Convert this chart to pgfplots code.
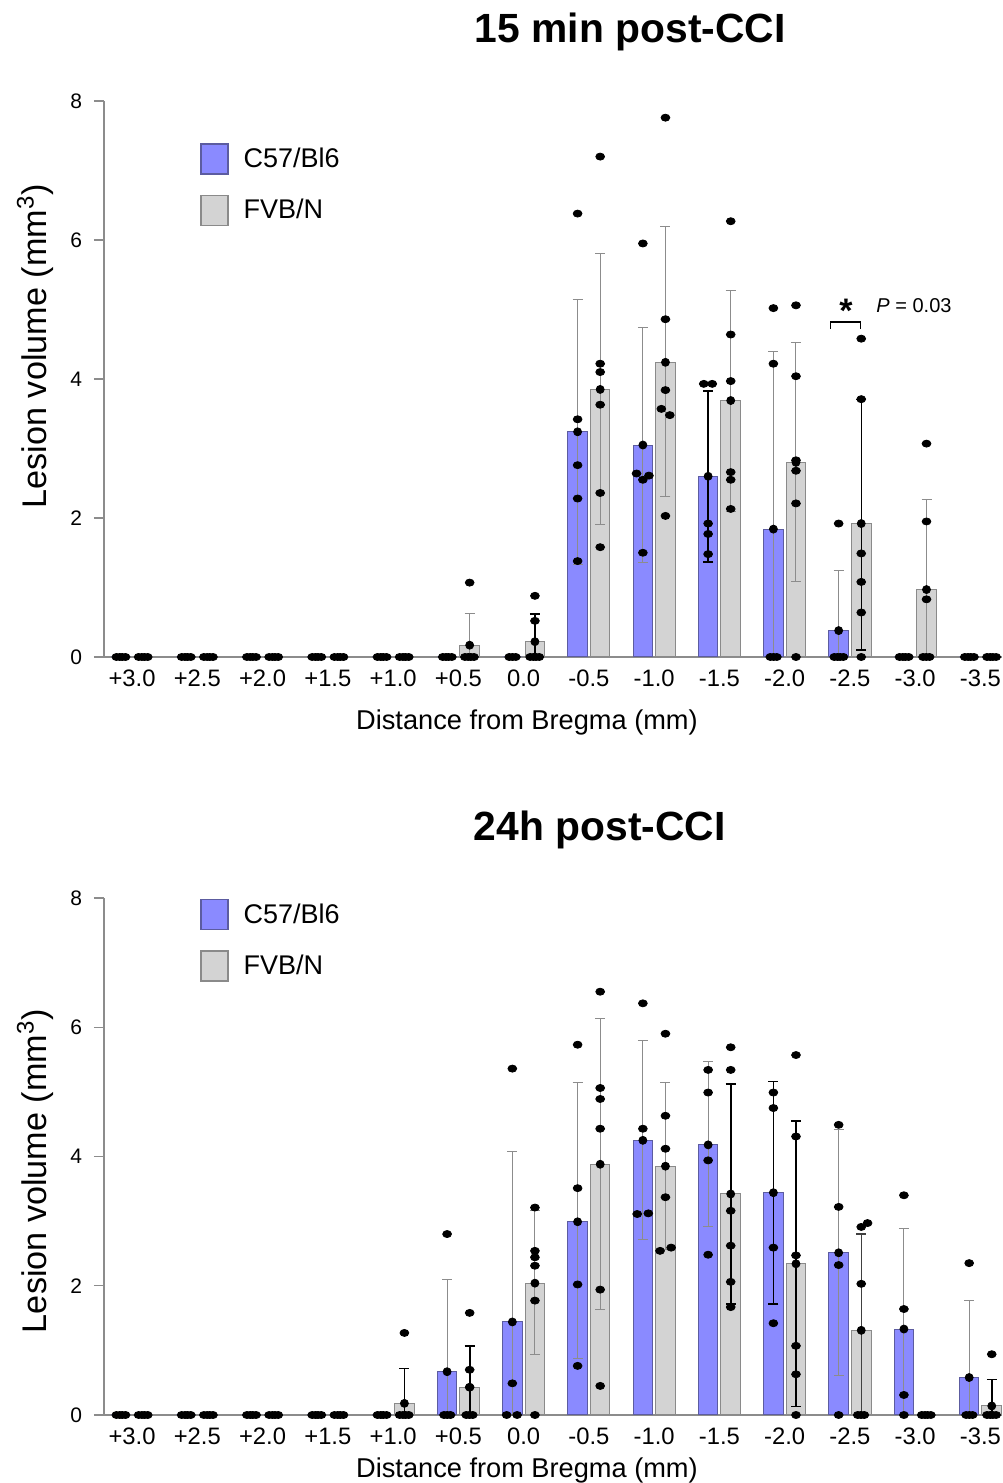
\documentclass[border=0pt]{standalone}
\usepackage{pgfplots}
\pgfplotsset{compat=1.18}
\usepackage{pgfplotstable}
\usepackage{fontspec}
\setmainfont{Liberation Sans}

\definecolor{c57}{HTML}{8A8AFF}
\definecolor{c57edge}{HTML}{5C5CA0}
\definecolor{fvb}{HTML}{D3D3D3}
\definecolor{fvbedge}{HTML}{8A8A8A}
\definecolor{axgray}{HTML}{8C8C8C}

% group means, i = 0 (+3.0 mm) ... 13 (-3.5 mm)
\pgfplotstableread{
i b g
0 0 0
1 0 0
2 0 0
3 0 0
4 0 0
5 0 0.17
6 0 0.22
7 3.24 3.85
8 3.05 4.24
9 2.60 3.69
10 1.84 2.80
11 0.38 1.92
12 0 0.97
13 0 0
}\topbars
\pgfplotstableread{
i b g
0 0 0
1 0 0
2 0 0
3 0 0
4 0 0.18
5 0.67 0.43
6 1.44 2.04
7 2.99 3.88
8 4.25 3.85
9 4.18 3.42
10 3.44 2.34
11 2.51 1.31
12 1.33 0
13 0.58 0.14
}\botbars

% SD bars: thin grey, thick black, thin black
\pgfplotstableread{
x m ep em
6.827 3.24 1.91 1.91
7.827 3.05 1.69 1.69
9.827 1.84 2.55 1.84
10.827 0.38 0.86 0.38
5.173 0.17 0.45 0.17
7.173 3.85 1.95 1.95
8.173 4.24 1.95 1.93
9.173 3.69 1.59 1.59
10.173 2.80 1.73 1.72
12.173 0.97 1.29 0.97
}\toperrA
\pgfplotstableread{
x m ep em
8.827 2.60 1.23 1.23
6.173 0.22 0.40 0.22
}\toperrB
\pgfplotstableread{
x m ep em
11.173 1.92 1.79 1.82
}\toperrC
\pgfplotstableread{
x m ep em
4.827 0.67 1.43 0.67
5.827 1.44 2.63 1.44
6.827 2.99 2.15 2.12
7.827 4.25 1.55 1.53
8.827 4.18 1.29 1.27
10.827 2.51 1.91 1.90
11.827 1.33 1.55 1.33
12.827 0.58 1.19 0.58
6.173 2.04 1.12 1.11
7.173 3.88 2.26 2.24
8.173 3.85 1.30 1.29
}\boterrA
\pgfplotstableread{
x m ep em
4.173 0.18 0.54 0.18
5.173 0.43 0.64 0.43
9.173 3.42 1.70 1.70
10.173 2.34 2.21 2.21
13.173 0.14 0.41 0.14
9.827 3.44 1.72 1.72
}\boterrB
\pgfplotstableread{
x m ep em
11.173 1.31 1.49 1.31
}\boterrC

% individual animals: category i, offset d from category centre, volume y
\pgfplotstableread{
i d y
0 -0.24 0
0 -0.19 0
0 -0.15 0
0 -0.10 0
0 0.10 0
0 0.15 0
0 0.19 0
0 0.24 0
1 -0.24 0
1 -0.19 0
1 -0.15 0
1 -0.10 0
1 0.10 0
1 0.15 0
1 0.19 0
1 0.24 0
2 -0.24 0
2 -0.19 0
2 -0.15 0
2 -0.10 0
2 0.10 0
2 0.15 0
2 0.19 0
2 0.24 0
3 -0.24 0
3 -0.19 0
3 -0.15 0
3 -0.10 0
3 0.10 0
3 0.15 0
3 0.19 0
3 0.24 0
4 -0.24 0
4 -0.19 0
4 -0.15 0
4 -0.10 0
4 0.10 0
4 0.15 0
4 0.19 0
4 0.24 0
5 -0.24 0
5 -0.19 0
5 -0.15 0
5 -0.10 0
5 0.173 1.07
5 0.10 0
5 0.15 0
5 0.19 0
5 0.24 0
6 -0.22 0
6 -0.17 0
6 -0.12 0
6 0.173 0.88
6 0.173 0.52
6 0.10 0
6 0.15 0
6 0.19 0
6 0.24 0
7 -0.173 6.38
7 -0.173 3.42
7 -0.173 2.76
7 -0.173 2.28
7 -0.173 1.38
7 0.173 7.20
7 0.173 4.22
7 0.173 4.10
7 0.173 3.63
7 0.173 2.36
7 0.173 1.58
8 -0.173 5.95
8 -0.27 2.64
8 -0.173 2.55
8 -0.08 2.61
8 -0.173 1.50
8 0.173 7.76
8 0.173 4.86
8 0.173 3.84
8 0.11 3.57
8 0.24 3.48
8 0.173 2.03
9 -0.24 3.93
9 -0.11 3.93
9 -0.173 1.92
9 -0.173 1.77
9 -0.173 1.48
9 0.173 6.27
9 0.173 4.64
9 0.173 3.97
9 0.173 2.66
9 0.173 2.55
9 0.173 2.13
10 -0.173 5.02
10 -0.173 4.22
10 -0.22 0
10 -0.17 0
10 -0.12 0
10 0.173 5.06
10 0.173 4.04
10 0.173 2.83
10 0.173 2.68
10 0.173 2.21
10 0.173 0
11 -0.173 1.92
11 -0.24 0
11 -0.19 0
11 -0.15 0
11 -0.10 0
11 0.173 4.58
11 0.173 3.71
11 0.173 1.49
11 0.173 1.08
11 0.173 0.64
11 0.173 0
12 -0.24 0
12 -0.19 0
12 -0.15 0
12 -0.10 0
12 0.173 3.07
12 0.173 1.95
12 0.173 0.83
12 0.12 0
12 0.17 0
12 0.22 0
13 -0.24 0
13 -0.19 0
13 -0.15 0
13 -0.10 0
13 0.10 0
13 0.15 0
13 0.19 0
13 0.24 0
}\topdots
\pgfplotstableread{
i d y
0 -0.24 0
0 -0.19 0
0 -0.15 0
0 -0.10 0
0 0.10 0
0 0.15 0
0 0.19 0
0 0.24 0
1 -0.24 0
1 -0.19 0
1 -0.15 0
1 -0.10 0
1 0.10 0
1 0.15 0
1 0.19 0
1 0.24 0
2 -0.24 0
2 -0.19 0
2 -0.15 0
2 -0.10 0
2 0.10 0
2 0.15 0
2 0.19 0
2 0.24 0
3 -0.24 0
3 -0.19 0
3 -0.15 0
3 -0.10 0
3 0.10 0
3 0.15 0
3 0.19 0
3 0.24 0
4 -0.24 0
4 -0.19 0
4 -0.15 0
4 -0.10 0
4 0.173 1.27
4 0.10 0
4 0.15 0
4 0.19 0
4 0.24 0
5 -0.173 2.80
5 -0.22 0
5 -0.17 0
5 -0.12 0
5 0.173 1.58
5 0.173 0.70
5 0.173 0.43
5 0.12 0
5 0.17 0
5 0.22 0
6 -0.173 5.36
6 -0.173 0.49
6 -0.26 0
6 -0.10 0
6 0.173 3.21
6 0.173 2.54
6 0.173 2.44
6 0.173 2.31
6 0.173 1.77
6 0.173 0
7 -0.173 5.73
7 -0.173 3.51
7 -0.173 2.02
7 -0.173 0.76
7 0.173 6.55
7 0.173 5.06
7 0.173 4.89
7 0.173 4.43
7 0.173 1.94
7 0.173 0.45
8 -0.173 6.37
8 -0.173 4.43
8 -0.26 3.11
8 -0.09 3.12
8 0.173 5.90
8 0.173 4.63
8 0.173 4.12
8 0.173 3.37
8 0.09 2.54
8 0.26 2.59
9 -0.173 5.34
9 -0.173 4.99
9 -0.173 3.94
9 -0.173 2.48
9 0.173 5.69
9 0.173 5.34
9 0.173 3.16
9 0.173 2.62
9 0.173 2.06
9 0.173 1.67
10 -0.173 4.99
10 -0.173 4.75
10 -0.173 2.59
10 -0.173 1.42
10 0.173 5.57
10 0.173 4.31
10 0.173 2.47
10 0.173 1.07
10 0.173 0.63
10 0.173 0
11 -0.173 4.49
11 -0.173 3.22
11 -0.173 2.32
11 -0.173 0
11 0.173 2.91
11 0.27 2.97
11 0.173 2.03
11 0.12 0
11 0.17 0
11 0.22 0
12 -0.173 3.40
12 -0.173 1.64
12 -0.173 0.31
12 -0.173 0
12 0.10 0
12 0.15 0
12 0.19 0
12 0.24 0
13 -0.173 2.35
13 -0.22 0
13 -0.17 0
13 -0.12 0
13 0.173 0.94
13 0.10 0
13 0.15 0
13 0.19 0
13 0.24 0
}\botdots

\pgfplotsset{
  lesion/.style={
    scale only axis, width=449pt,
    xmin=-0.43, xmax=13.33, ymin=0, ymax=8,
    clip=false,
    axis x line*=bottom, axis y line*=left,
    axis line style={draw=axgray, line width=0.6pt},
    xtick={0,...,13},
    xticklabels={+3.0,+2.5,+2.0,+1.5,+1.0,+0.5,0.0,-0.5,-1.0,-1.5,-2.0,-2.5,-3.0,-3.5},
    ytick={0,2,4,6,8},
    tick align=outside, major tick length=5pt,
    xtick style={draw=none},
    ytick style={draw=axgray, line width=0.6pt},
    xticklabel style={font=\fontsize{11.9}{12}\selectfont, yshift=2pt},
    yticklabel style={font=\fontsize{10.5}{11}\selectfont, xshift=-2.5pt},
    /pgf/number format/assume math mode=true,
    xlabel={Distance from Bregma (mm)},
    ylabel={Lesion volume (mm\textsuperscript{3})},
    label style={font=\fontsize{13.6}{15}\selectfont},
    ylabel style={font=\fontsize{17.1}{18}\selectfont},
    title style={font=\bfseries\fontsize{20.4}{22}\selectfont, anchor=center},
    legend cell align=left,
    legend style={draw=none, fill=none, inner sep=0pt, row sep=10pt,
      font=\fontsize{13.5}{14}\selectfont, nodes={inner sep=0pt},
      /tikz/every odd column/.append style={column sep=7.5pt},
      anchor=north west},
  },
  c57bar/.style={ybar, bar width=0.3, bar shift=0pt, fill=c57, draw=c57edge, line width=0.5pt,
    legend image code/.code={\draw[fill=c57, draw=c57edge, line width=0.6pt] (0pt,-7.5pt) rectangle (13.5pt,7.5pt);}},
  fvbbar/.style={ybar, bar width=0.3, bar shift=0pt, fill=fvb, draw=fvbedge, line width=0.5pt,
    legend image code/.code={\draw[fill=fvb, draw=fvbedge, line width=0.6pt] (0pt,-7.5pt) rectangle (13.5pt,7.5pt);}},
  sdbar/.style 2 args={only marks, mark=none, forget plot,
    error bars/y dir=both, error bars/y explicit,
    error bars/error bar style={draw=#1, line width=#2},
    error bars/error mark options={rotate=90, draw=#1, mark size=2.5pt, line width=#2}},
  animals/.style={only marks, mark=*, mark size=2.2pt, forget plot,
    mark options={fill=black, draw=black, yscale=0.8}},
}

\begin{document}
\begin{tikzpicture}
\path[use as bounding box] (0,0) rectangle (501pt,741.5pt);

% 15 min after injury
\begin{axis}[lesion,
  at={(52pt,413pt)}, anchor=south west, height=278pt,
  title={15 min post-CCI},
  title style={at={(axis description cs:0.586,1)}, yshift=28.5pt},
  xlabel style={at={(axis description cs:0.471,0)}, anchor=center, yshift=-32.5pt},
  ylabel style={at={(axis description cs:-0.0768,0.559)}, anchor=center},
  legend style={at={(axis description cs:0.107,0.9245)}},
]
\addplot[c57bar] table[x expr=\thisrow{i}-0.173, y=b] {\topbars};
\addlegendentry{C57/Bl6}
\addplot[fvbbar] table[x expr=\thisrow{i}+0.173, y=g] {\topbars};
\addlegendentry{FVB/N}
\addplot[sdbar={axgray}{0.5pt}] table[x=x, y=m, y error plus=ep, y error minus=em] {\toperrA};
\addplot[sdbar={black}{0.85pt}] table[x=x, y=m, y error plus=ep, y error minus=em] {\toperrB};
\addplot[sdbar={black}{0.55pt}] table[x=x, y=m, y error plus=ep, y error minus=em] {\toperrC};
\addplot[animals] table[x expr=\thisrow{i}+\thisrow{d}, y=y] {\topdots};
\draw[black, line width=0.6pt] (axis cs:10.70,4.72) -- (axis cs:10.70,4.82) -- (axis cs:11.16,4.82) -- (axis cs:11.16,4.72);
\node[anchor=north, inner sep=0pt, font=\bfseries\fontsize{17}{17}\selectfont] at (axis cs:10.94,5.16) {*};
\node[anchor=west, inner sep=0pt, font=\fontsize{10}{10}\selectfont] at (axis cs:11.40,5.05) {\textit{P} = 0.03};
\end{axis}

% 24 h after injury
\begin{axis}[lesion,
  at={(52pt,34pt)}, anchor=south west, height=258.5pt,
  title={24h post-CCI},
  title style={at={(axis description cs:0.552,1)}, yshift=28pt},
  xlabel style={at={(axis description cs:0.471,0)}, anchor=center, yshift=-27.5pt},
  ylabel style={at={(axis description cs:-0.0768,0.472)}, anchor=center},
  legend style={at={(axis description cs:0.107,0.9985)}},
]
\addplot[c57bar] table[x expr=\thisrow{i}-0.173, y=b] {\botbars};
\addlegendentry{C57/Bl6}
\addplot[fvbbar] table[x expr=\thisrow{i}+0.173, y=g] {\botbars};
\addlegendentry{FVB/N}
\addplot[sdbar={axgray}{0.5pt}] table[x=x, y=m, y error plus=ep, y error minus=em] {\boterrA};
\addplot[sdbar={black}{0.85pt}] table[x=x, y=m, y error plus=ep, y error minus=em] {\boterrB};
\addplot[sdbar={black!75}{0.6pt}] table[x=x, y=m, y error plus=ep, y error minus=em] {\boterrC};
\addplot[animals] table[x expr=\thisrow{i}+\thisrow{d}, y=y] {\botdots};
\end{axis}
\end{tikzpicture}
\end{document}
